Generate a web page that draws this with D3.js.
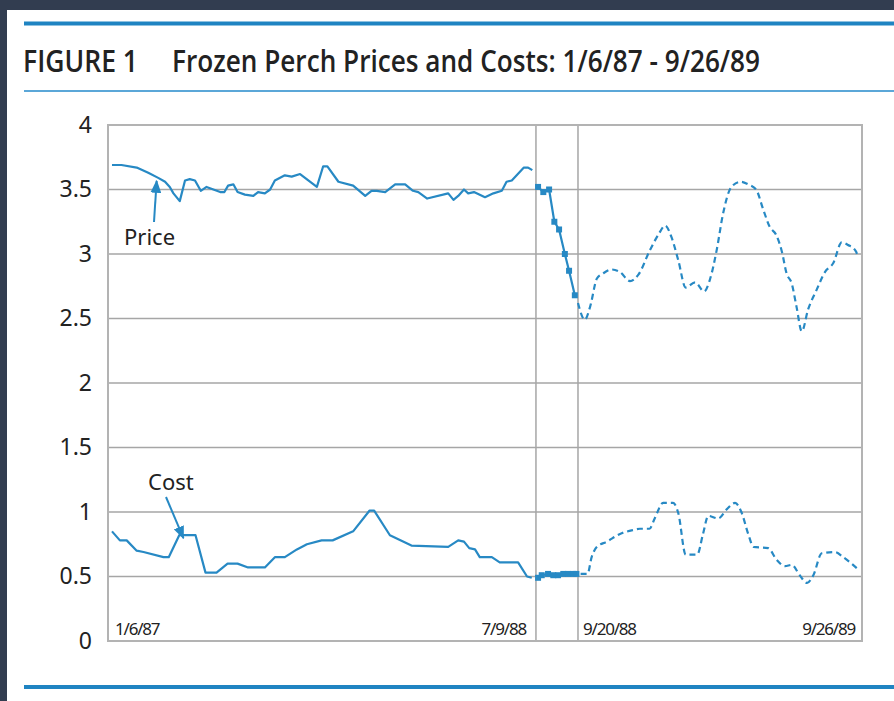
<!DOCTYPE html>
<html>
<head>
<meta charset="utf-8">
<script src="https://cdn.jsdelivr.net/npm/d3@7"></script>
<style>
  html, body { margin: 0; padding: 0; background: #323d50; }
  svg { display: block; }
</style>
</head>
<body>
<script>
// Weeks since 1/6/87 (x) and dollars per lb (y)

// first stretch: solid line
var priceEarly = [
  [0, 3.69], [1.8, 3.69], [4.7, 3.67], [6.9, 3.63], [8.8, 3.59], [10.1, 3.56], [11.0, 3.52], [11.7, 3.47],
  [12.9, 3.41], [13.9, 3.57], [14.8, 3.58], [15.8, 3.57], [16.9, 3.49], [18.0, 3.52], [19.3, 3.50], [20.6, 3.48],
  [21.4, 3.48], [22.1, 3.53], [23.1, 3.54], [23.9, 3.48], [25.3, 3.46], [26.9, 3.45], [27.8, 3.48], [29.1, 3.47],
  [30.1, 3.50], [31.0, 3.57], [32.9, 3.61], [34.2, 3.60], [35.8, 3.62], [39.0, 3.52], [40.2, 3.68], [41.0, 3.68],
  [43.1, 3.56], [45.9, 3.53], [48.2, 3.45], [49.4, 3.49], [50.4, 3.49], [52.0, 3.48], [53.9, 3.54], [55.8, 3.54],
  [57.3, 3.49], [58.3, 3.48], [60.0, 3.43], [64.0, 3.47], [65.0, 3.42], [65.9, 3.45], [67.0, 3.50], [67.8, 3.47],
  [68.9, 3.48], [71.0, 3.44], [72.6, 3.47], [74.2, 3.49], [75.1, 3.56], [76.1, 3.57], [78.4, 3.67], [79.2, 3.67],
  [80.0, 3.65]
];
var costEarly = [
  [0, 0.85], [1.5, 0.78], [2.8, 0.78], [4.7, 0.70], [6.0, 0.69], [9.8, 0.65], [10.8, 0.65], [12.8, 0.82],
  [15.9, 0.82], [17.8, 0.53], [19.9, 0.53], [22.0, 0.60], [23.9, 0.60], [25.9, 0.57], [29.1, 0.57], [31.0, 0.65],
  [32.9, 0.65], [35.2, 0.71], [37.1, 0.75], [39.9, 0.78], [42.0, 0.78], [45.9, 0.85], [49.0, 1.01], [49.9, 1.01],
  [52.9, 0.82], [57.0, 0.74], [64.0, 0.73], [65.9, 0.78], [67.0, 0.77], [68.0, 0.72], [69.1, 0.71], [70.0, 0.65],
  [72.3, 0.65], [73.8, 0.61], [77.3, 0.61], [79.0, 0.50], [79.9, 0.49]
];

// middle stretch: solid line with square markers
var priceMid = [
  [81.1, 3.52], [82.1, 3.48], [83.2, 3.50], [84.2, 3.25], [85.1, 3.19], [86.2, 3.00], [87.0, 2.87], [88.1, 2.68]
];
var costMid = [
  [81.1, 0.49], [81.8, 0.51], [83.0, 0.52], [84.0, 0.51], [84.9, 0.51], [85.9, 0.52], [86.8, 0.52], [87.8, 0.52],
  [88.4, 0.52]
];

// last stretch: dashed line
var priceLate = [
  [88.7, 2.62], [90.0, 2.49], [91.0, 2.59], [92.3, 2.81], [93.5, 2.85], [95.1, 2.88], [96.7, 2.86], [98.6, 2.79],
  [100.2, 2.84], [102.4, 3.03], [104.0, 3.15], [105.3, 3.22], [106.5, 3.13], [107.8, 2.95], [109.2, 2.74],
  [111.0, 2.78], [112.7, 2.71], [113.8, 2.80], [115.1, 3.03], [116.3, 3.31], [117.9, 3.52], [119.7, 3.56],
  [121.1, 3.54], [122.6, 3.50], [124.0, 3.34], [125.2, 3.21], [126.4, 3.15], [127.5, 3.02], [128.4, 2.85],
  [129.4, 2.77], [130.3, 2.59], [131.3, 2.40], [132.5, 2.57], [134.1, 2.72], [135.7, 2.86], [137.3, 2.93],
  [138.9, 3.09], [140.1, 3.07], [141.6, 3.02], [141.9, 2.99]
];
var costLate = [
  [89.2, 0.52], [90.5, 0.52], [91.3, 0.65], [92.3, 0.73], [94.2, 0.77], [96.7, 0.83], [99.2, 0.86], [100.5, 0.87],
  [102.3, 0.87], [103.3, 0.95], [104.9, 1.07], [106.8, 1.07], [107.8, 0.99], [109.2, 0.67], [111.4, 0.67],
  [112.5, 0.83], [113.5, 0.97], [115.4, 0.95], [117.0, 1.02], [118.6, 1.07], [119.8, 1.00], [121.1, 0.83],
  [122.1, 0.73], [124.9, 0.72], [126.5, 0.63], [128.1, 0.58], [129.4, 0.59], [130.9, 0.51], [132.3, 0.45],
  [133.5, 0.51], [135.1, 0.68], [137.6, 0.69], [139.2, 0.65], [141.9, 0.56]
];

var yTicks = [0, 0.5, 1, 1.5, 2, 2.5, 3, 3.5, 4];
var dividers = [80.7, 88.7];
var dateLabels = ["1/6/87", "7/9/88", "9/20/88", "9/26/89"];
var titleLeft = "FIGURE 1";
var titleRight = "Frozen Perch Prices and Costs: 1/6/87 - 9/26/89";

var width = 894, height = 701;
var blue = "#2789c4";
var grid = "#a6a6a6";

var svg = d3.select("body").append("svg")
  .attr("width", width)
  .attr("height", height);

// white page on the dark backdrop
svg.append("rect")
  .attr("x", 7).attr("y", 10)
  .attr("width", width - 7).attr("height", height - 10)
  .attr("fill", "#fff");

// header / footer rules
svg.append("line").attr("x1", 24).attr("x2", width).attr("y1", 23.5).attr("y2", 23.5)
  .attr("stroke", "#1f84c2").attr("stroke-width", 4);
svg.append("line").attr("x1", 24).attr("x2", width).attr("y1", 91).attr("y2", 91)
  .attr("stroke", "#5ba7d8").attr("stroke-width", 2);
svg.append("line").attr("x1", 24).attr("x2", width).attr("y1", 687).attr("y2", 687)
  .attr("stroke", "#1f84c2").attr("stroke-width", 4);

// title
svg.append("text")
  .attr("x", 23).attr("y", 72)
  .attr("textLength", 115).attr("lengthAdjust", "spacingAndGlyphs")
  .style("font-family", "'Open Sans', sans-serif").style("font-weight", 600).style("font-size", "31px")
  .attr("fill", "#222")
  .text(titleLeft);
svg.append("text")
  .attr("x", 172).attr("y", 72)
  .attr("textLength", 588).attr("lengthAdjust", "spacingAndGlyphs")
  .style("font-family", "'Open Sans', sans-serif").style("font-weight", 600).style("font-size", "31px")
  .attr("fill", "#222")
  .text(titleRight);

// scales
var x = d3.scaleLinear().domain([-0.76, 142.76]).range([108, 862]);
var y = d3.scaleLinear().domain([0, 4]).range([641, 125]);

var plot = svg.append("g");

// horizontal grid
plot.selectAll(".hgrid")
  .data(yTicks.filter(function (d) { return d > 0 && d < 4; }))
  .enter().append("line")
  .attr("class", "hgrid")
  .attr("x1", x.range()[0]).attr("x2", x.range()[1])
  .attr("y1", function (d) { return y(d); }).attr("y2", function (d) { return y(d); })
  .attr("stroke", grid).attr("stroke-width", 1.5);

// section dividers
plot.selectAll(".vgrid")
  .data(dividers)
  .enter().append("line")
  .attr("class", "vgrid")
  .attr("x1", function (d) { return x(d); }).attr("x2", function (d) { return x(d); })
  .attr("y1", y(4)).attr("y2", y(0))
  .attr("stroke", grid).attr("stroke-width", 1.5);

// frame
plot.append("rect")
  .attr("x", x.range()[0]).attr("y", y(4))
  .attr("width", x.range()[1] - x.range()[0]).attr("height", y(0) - y(4))
  .attr("fill", "none").attr("stroke", "#b3b3b3").attr("stroke-width", 2);

// y axis
var yAxis = d3.axisLeft(y).tickValues(yTicks).tickSize(0).tickPadding(0)
  .tickFormat(function (d) { return String(d); });
svg.append("g")
  .attr("transform", "translate(92,0)")
  .call(yAxis)
  .call(function (g) { g.select(".domain").remove(); })
  .selectAll("text")
  .style("font-family", "'Noto Sans', sans-serif")
  .style("font-size", "23px")
  .attr("fill", "#222");

// date labels inside the plot
var dateSpec = [
  { at: 0, anchor: "start", dx: 3 },
  { at: dividers[0], anchor: "end", dx: -10 },
  { at: dividers[1], anchor: "start", dx: 5 },
  { at: 142.76, anchor: "end", dx: -7 }
];
plot.selectAll(".date")
  .data(dateLabels)
  .enter().append("text")
  .attr("class", "date")
  .attr("x", function (d, i) { return x(dateSpec[i].at) + dateSpec[i].dx; })
  .attr("y", 635)
  .attr("text-anchor", function (d, i) { return dateSpec[i].anchor; })
  .style("font-family", "'Noto Sans', sans-serif")
  .style("font-size", "17px")
  .style("letter-spacing", "-1.2px")
  .attr("fill", "#222")
  .text(function (d) { return d; });

// lines
var straight = d3.line()
  .x(function (d) { return x(d[0]); })
  .y(function (d) { return y(d[1]); });
var smooth = d3.line()
  .x(function (d) { return x(d[0]); })
  .y(function (d) { return y(d[1]); })
  .curve(d3.curveMonotoneX);

[priceEarly, costEarly, priceMid, costMid].forEach(function (s) {
  plot.append("path")
    .datum(s)
    .attr("d", straight)
    .attr("fill", "none").attr("stroke", blue).attr("stroke-width", 2.2)
    .attr("stroke-linejoin", "round");
});
[priceLate, costLate].forEach(function (s) {
  plot.append("path")
    .datum(s)
    .attr("d", smooth)
    .attr("fill", "none").attr("stroke", blue).attr("stroke-width", 2.2)
    .attr("stroke-dasharray", "6,4");
});

// square markers in the middle stretch
plot.selectAll(".mark")
  .data(priceMid.concat(costMid))
  .enter().append("rect")
  .attr("class", "mark")
  .attr("x", function (d) { return x(d[0]) - 3; })
  .attr("y", function (d) { return y(d[1]) - 3; })
  .attr("width", 6).attr("height", 6)
  .attr("fill", blue);

// annotations
svg.append("defs").append("marker")
  .attr("id", "head")
  .attr("viewBox", "0 0 12 10")
  .attr("refX", 11).attr("refY", 5)
  .attr("markerWidth", 6.5).attr("markerHeight", 5.5)
  .attr("markerUnits", "strokeWidth")
  .attr("orient", "auto")
  .append("path")
  .attr("d", "M0,0 L12,5 L0,10 z")
  .attr("fill", blue);

var notes = [
  { text: "Price", tx: 124, ty: 245, from: [154, 222], to: [x(8.5), y(3.59) + 3] },
  { text: "Cost", tx: 148, ty: 490, from: [166, 497], to: [x(13.6), y(0.82) + 3] }
];
notes.forEach(function (n) {
  svg.append("text")
    .attr("x", n.tx).attr("y", n.ty)
    .style("font-family", "'Noto Sans', sans-serif")
    .style("font-size", "22px")
    .attr("fill", "#222")
    .text(n.text);
  svg.append("line")
    .attr("x1", n.from[0]).attr("y1", n.from[1])
    .attr("x2", n.to[0]).attr("y2", n.to[1])
    .attr("stroke", blue).attr("stroke-width", 2)
    .attr("marker-end", "url(#head)");
});
</script>
</body>
</html>
